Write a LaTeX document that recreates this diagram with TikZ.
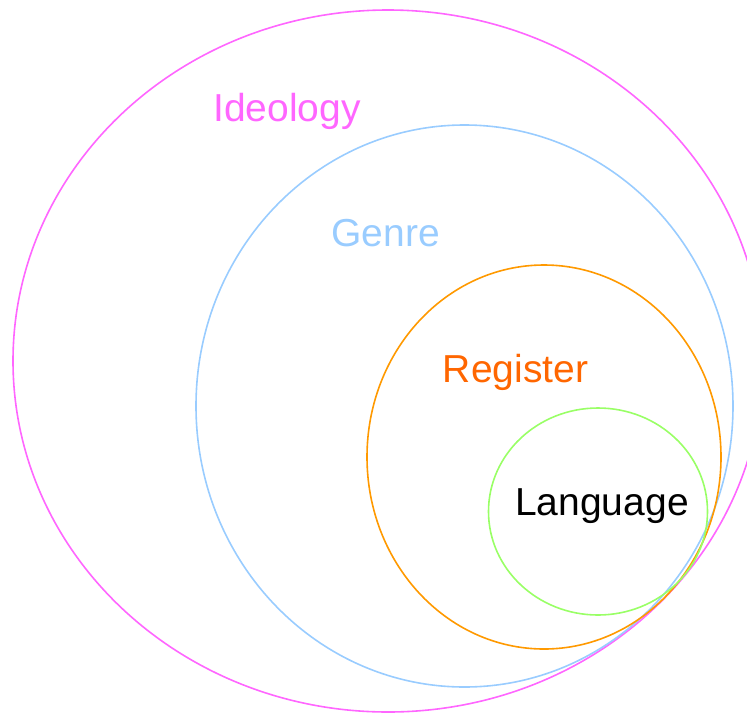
\documentclass[tikz,border=0pt]{standalone}
\usepackage{fontspec}
\setmainfont{Liberation Sans}
\definecolor{ideocol}{HTML}{FF66FF}
\definecolor{genrecol}{HTML}{99CCFF}
\definecolor{regcol}{HTML}{FF9900}
\definecolor{regtext}{HTML}{FF6600}
\definecolor{langcol}{HTML}{99FF66}
\begin{document}
\begin{tikzpicture}[x=1pt,y=-1pt,
  ring/.style={line width=1.6pt},
  lbl/.style={anchor=base,inner sep=0pt,font=\fontsize{39}{47}\selectfont}]
\useasboundingbox (0,0) rectangle (747,713);
\clip (0,0) rectangle (747,713);
% nested contexts, outermost first
\draw[ring,ideocol]  (388,361) ellipse [x radius=375, y radius=351];
\draw[ring,genrecol] (464.5,406) ellipse [x radius=268.5, y radius=281];
\draw[ring,regcol]   (544,457) ellipse [x radius=177, y radius=192];
\draw[ring,langcol]  (598,511.5) ellipse [x radius=109.5, y radius=103.5];
% labels
\node[lbl,text=ideocol]  (ideology) at (287,121) {Ideology};
\node[lbl,text=genrecol] (genre)    at (385.5,246) {Genre};
\node[lbl,text=regtext]  (register) at (515.5,382) {Register};
\node[lbl,text=black]    (language) at (602,515) {Language};
\end{tikzpicture}
\end{document}
